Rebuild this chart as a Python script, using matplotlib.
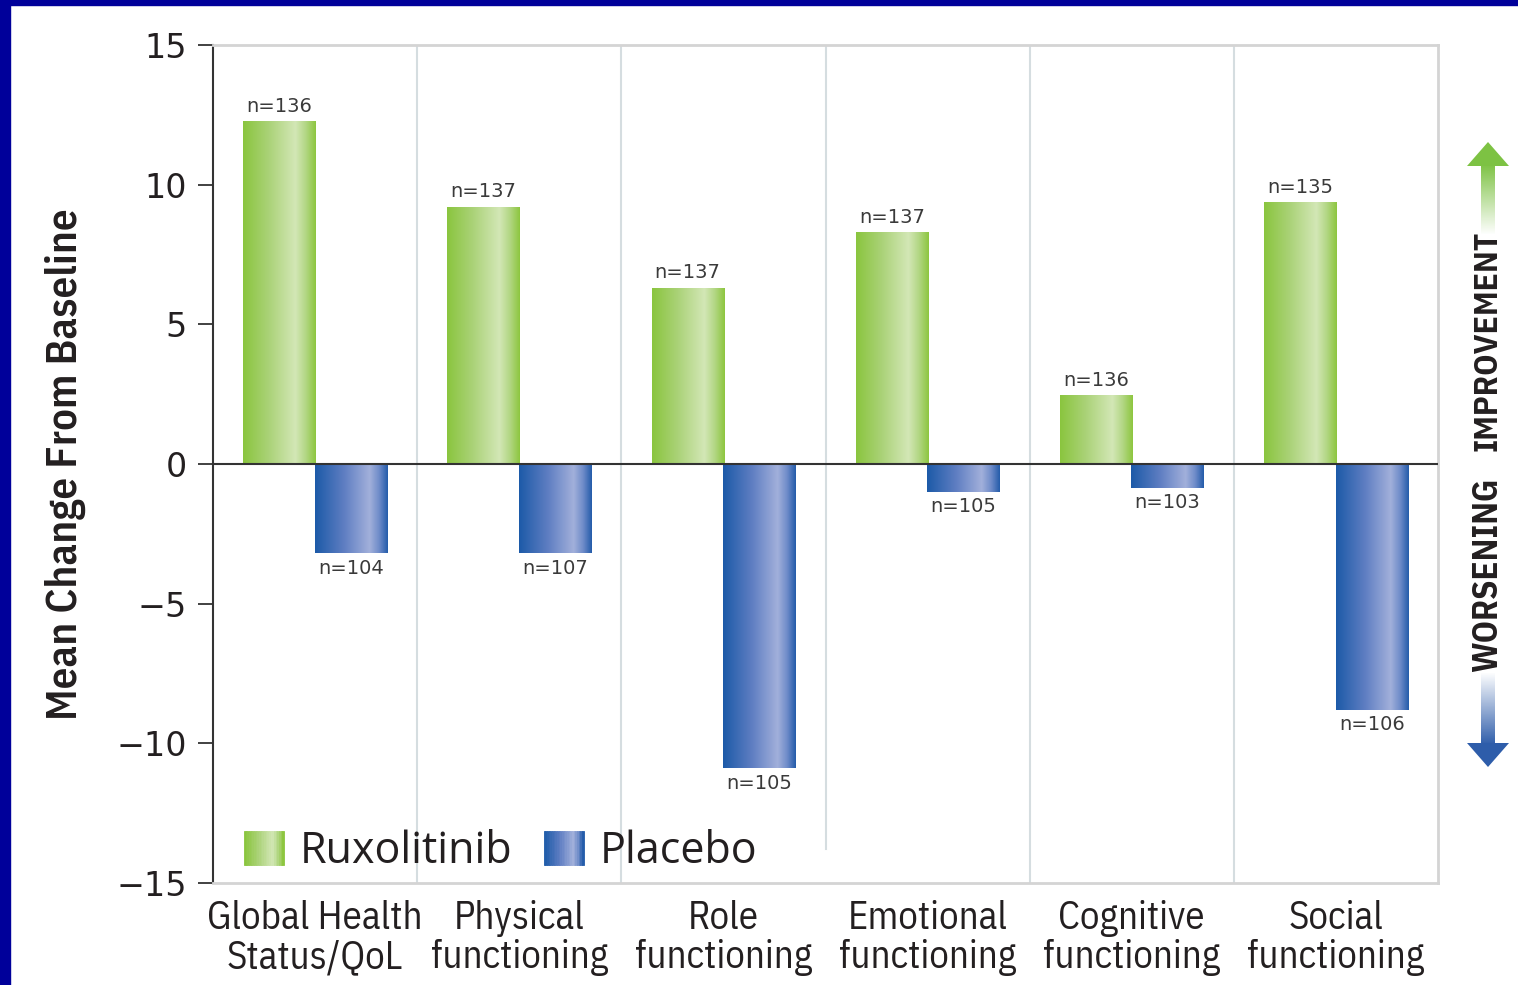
import numpy as np
import matplotlib
matplotlib.use('Agg')
import matplotlib.pyplot as plt
from matplotlib.colors import LinearSegmentedColormap, to_rgb
from matplotlib.patches import Patch, Rectangle, Polygon
from matplotlib.legend_handler import HandlerTuple

# ---------------- data ----------------
categories = ["Global Health\nStatus/QoL", "Physical\nfunctioning", "Role\nfunctioning",
              "Emotional\nfunctioning", "Cognitive\nfunctioning", "Social\nfunctioning"]
ruxolitinib = [12.25, 9.2, 6.3, 8.3, 2.45, 9.35]
placebo = [-3.2, -3.2, -10.9, -1.0, -0.85, -8.8]
n_rux = [136, 137, 137, 137, 136, 135]
n_pbo = [104, 107, 105, 105, 103, 106]
series_names = ["Ruxolitinib", "Placebo"]
yticks = [15, 10, 5, 0, -5, -10, -15]

# ---------------- style ----------------
W, H = 1518, 985
COND = ['IBM Plex Sans Condensed', 'DejaVu Sans']
HUMAN = ['Open Sans', 'DejaVu Sans']
TXT = '#231F20'

green_cmap = LinearSegmentedColormap.from_list('g', [
    (0.0, '#8AC53E'), (0.35, '#AAD277'), (0.72, '#D3E7B6'), (0.86, '#B3D785'), (1.0, '#8DC63F')])
blue_cmap = LinearSegmentedColormap.from_list('b', [
    (0.0, '#1C5AA8'), (0.4, '#5F7EC2'), (0.75, '#A2B0DB'), (0.88, '#6F8CC9'), (1.0, '#245CAA')])

fig = plt.figure(figsize=(W / 100, H / 100), dpi=100)
fig.patch.set_facecolor('white')

# blue slide border (left and top)
fig.patches.append(Rectangle((0, 0), 10 / W, 1, transform=fig.transFigure, color='#00009A', zorder=10))
fig.patches.append(Rectangle((0, 1 - 5 / H), 1, 5 / H, transform=fig.transFigure, color='#00009A', zorder=10))

ax = fig.add_axes([213 / W, 1 - 883 / H, (1438 - 213) / W, (883 - 45) / H])

x = np.arange(len(categories))
bw = 0.353
off = 0.175
bars_r = ax.bar(x - off, ruxolitinib, bw, color='none', edgecolor='none', zorder=2)
bars_p = ax.bar(x + off, placebo, bw, color='none', edgecolor='none', zorder=2)

grad = np.linspace(0, 1, 256)[np.newaxis, :]
for bars, cmap in ((bars_r, green_cmap), (bars_p, blue_cmap)):
    for p in bars:
        x0, y0, w, h = p.get_x(), p.get_y(), p.get_width(), p.get_height()
        ax.imshow(grad, cmap=cmap, extent=[x0, x0 + w, y0, y0 + h], aspect='auto',
                  interpolation='bilinear', zorder=2)

# n labels
for p, n in zip(bars_r, n_rux):
    ax.annotate(f"n={n}", (p.get_x() + p.get_width() / 2, p.get_height()),
                xytext=(0, 4), textcoords='offset points', ha='center', va='bottom',
                fontsize=14, color='#3a3a3a', zorder=4)
for p, n in zip(bars_p, n_pbo):
    ax.annotate(f"n={n}", (p.get_x() + p.get_width() / 2, p.get_height()),
                xytext=(0, -4), textcoords='offset points', ha='center', va='top',
                fontsize=14, color='#3a3a3a', zorder=4)

# separators
sep_bottom = [-15, -15, -13.8, -15, -15]
for i, yb in enumerate(sep_bottom):
    ax.plot([i + 0.5, i + 0.5], [yb, 15], color='#D5DDE0', lw=1.5, zorder=1)

ax.axhline(0, color='#333333', lw=1.5, zorder=3)

ax.set_xlim(-0.5, len(categories) - 0.5)
ax.set_ylim(-15, 15)
ax.set_yticks(yticks)
ax.tick_params(axis='y', length=10.8, width=1.3, color='#333333', labelsize=24, pad=8,
               labelcolor=TXT)
ax.set_xticks(x)
ax.set_xticklabels(categories, fontsize=28, family=COND, color=TXT, linespacing=1.08)
ax.tick_params(axis='x', length=0, pad=12)

for s in ('top', 'right', 'bottom'):
    ax.spines[s].set_color('#D4D4D4')
    ax.spines[s].set_linewidth(2)
ax.spines['left'].set_color('#333333')
ax.spines['left'].set_linewidth(1.5)

fig.text(65 / W, 1 - 464 / H, 'Mean Change From Baseline', rotation=90, ha='center',
         va='center', fontsize=31, family=COND, fontweight=600, color=TXT)

# legend with gradient swatches
def strips(cmap, n=24):
    return tuple(Patch(facecolor=cmap(v), edgecolor=cmap(v), lw=0.6) for v in np.linspace(0, 1, n))

leg = ax.legend(handles=[strips(green_cmap), strips(blue_cmap)], labels=series_names,
                handler_map={tuple: HandlerTuple(ndivide=None, pad=0)},
                loc='lower left', bbox_to_anchor=((244 - 213) / 1225, (883 - 874) / 838),
                frameon=False, ncol=2, prop={'family': HUMAN, 'size': 31},
                handlelength=0.93, handleheight=0.84,
                handletextpad=0.37, columnspacing=0.72, borderpad=0, borderaxespad=0)
for t in leg.get_texts():
    t.set_color(TXT)

# right-hand improvement / worsening arrow
aax = fig.add_axes([1455 / W, 1 - 790 / H, 63 / W, (790 - 130) / H])
aax.axis('off')

def vgrad(c, top_opaque=True, n=128):
    rgb = np.array(to_rgb(c))
    a = np.linspace(1, 0, n) if top_opaque else np.linspace(0, 1, n)
    img = np.zeros((n, 1, 4))
    img[:, 0, :3] = rgb
    img[:, 0, 3] = a
    return img

aax.imshow(vgrad('#7DC243', True), extent=[1481, 1495, 235, 164], aspect='auto',
           interpolation='bilinear')
aax.add_patch(Polygon([(1467, 166), (1509, 166), (1488, 142)], closed=True,
                      color='#7DC243', lw=0))
aax.imshow(vgrad('#2E5DAA', False), extent=[1481, 1495, 745, 672], aspect='auto',
           interpolation='bilinear')
aax.add_patch(Polygon([(1467, 743), (1509, 743), (1488, 767)], closed=True,
                      color='#2E5DAA', lw=0))
aax.set_xlim(1455, 1518)
aax.set_ylim(790, 130)
aax.text(1488, 341, 'IMPROVEMENT', rotation=90, ha='center', va='center', fontsize=24,
         fontweight='bold', family=COND, color=TXT)
aax.text(1488, 575, 'WORSENING', rotation=90, ha='center', va='center', fontsize=25,
         fontweight='bold', family=COND, color=TXT)

fig.savefig('out.png', dpi=100, facecolor='white')
